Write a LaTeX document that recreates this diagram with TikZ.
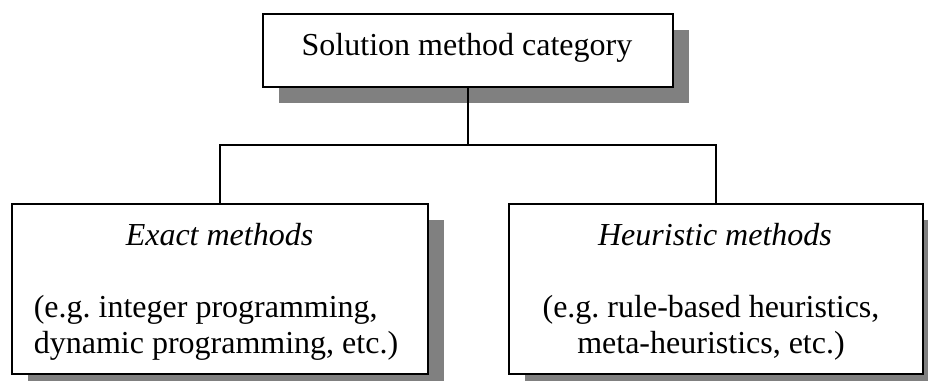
\documentclass[tikz,border=0pt]{standalone}
\usepackage{fontspec}
\setmainfont{Liberation Serif}
\usetikzlibrary{shadows}
\frenchspacing

\begin{document}
\begin{tikzpicture}[x=1pt, y=-1pt, line width=1.6pt,
  catbox/.style={draw, fill=white, inner sep=0pt,
    drop shadow={shadow xshift=16pt, shadow yshift=-16pt, fill=black!50, opacity=1}},
  boxtext/.style={font=\fontsize{32}{36}\selectfont, inner sep=0pt, anchor=base}]
  \useasboundingbox (0,0) rectangle (928,380);
  % category box on top, the two method families below it
  \node[catbox, minimum width=410pt, minimum height=73pt] (top) at (468,50.5) {};
  \node[catbox, minimum width=416pt, minimum height=170pt] (exact) at (220,289) {};
  \node[catbox, minimum width=414pt, minimum height=170pt] (heur) at (716,289) {};
  \node[boxtext] (toptext) at (467,55) {Solution method category};
  \node[boxtext] (exacttitle) at (219.5,245) {\textit{Exact methods}};
  \node[boxtext, anchor=base west, align=left] (exactbody) at (33,353)
    {(e.g. integer programming,\\dynamic programming, etc.)};
  \node[boxtext] (heurtitle) at (715,245) {\textit{Heuristic methods}};
  \node[boxtext, align=center] (heurbody) at (711,353)
    {(e.g. rule-based heuristics,\\meta-heuristics, etc.)};
  \coordinate (split) at (468,145);
  \draw (top.south) -- (split);
  \draw (exact.north) |- (split) -| (heur.north);
\end{tikzpicture}
\end{document}
